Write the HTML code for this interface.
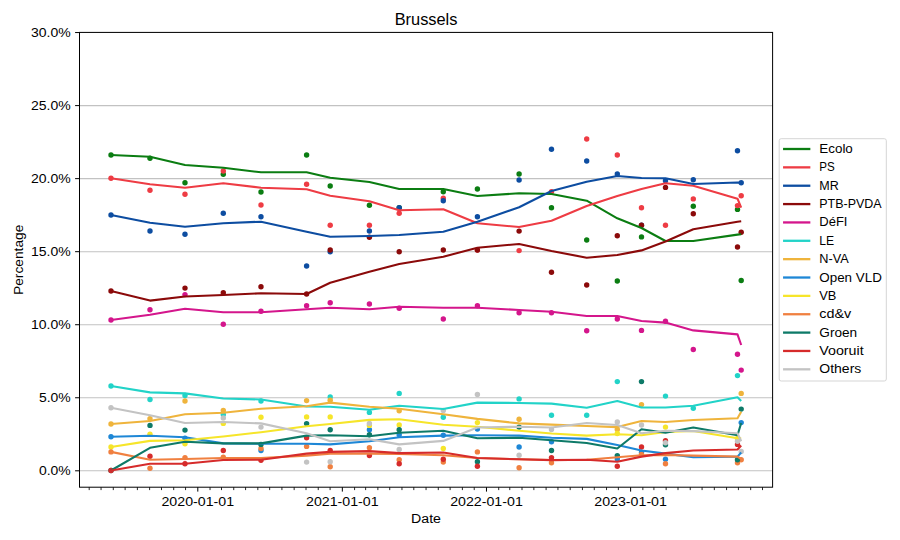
<!DOCTYPE html><html><head><meta charset="utf-8"><style>html,body{margin:0;padding:0;background:#fff;}svg{display:block;}text{font-family:"Liberation Sans",sans-serif;fill:#000;}</style></head><body>
<svg width="900" height="540" viewBox="0 0 900 540">
<rect x="0" y="0" width="900" height="540" fill="#fff"/>
<line x1="79.5" y1="470.80" x2="772.6" y2="470.80" stroke="#c2c2c2" stroke-width="1.1"/>
<line x1="79.5" y1="397.76" x2="772.6" y2="397.76" stroke="#c2c2c2" stroke-width="1.1"/>
<line x1="79.5" y1="324.72" x2="772.6" y2="324.72" stroke="#c2c2c2" stroke-width="1.1"/>
<line x1="79.5" y1="251.68" x2="772.6" y2="251.68" stroke="#c2c2c2" stroke-width="1.1"/>
<line x1="79.5" y1="178.64" x2="772.6" y2="178.64" stroke="#c2c2c2" stroke-width="1.1"/>
<line x1="79.5" y1="105.60" x2="772.6" y2="105.60" stroke="#c2c2c2" stroke-width="1.1"/>
<line x1="79.5" y1="32.56" x2="772.6" y2="32.56" stroke="#c2c2c2" stroke-width="1.1"/>
<clipPath id="c"><rect x="79.5" y="32.4" width="693.1" height="454.8"/></clipPath>
<g clip-path="url(#c)">
<g fill="#0b7d12"><circle cx="111" cy="155" r="2.7"/><circle cx="150" cy="158.3" r="2.7"/><circle cx="185" cy="182.7" r="2.7"/><circle cx="223.3" cy="174.3" r="2.7"/><circle cx="261" cy="192" r="2.7"/><circle cx="306.6" cy="155" r="2.7"/><circle cx="330.2" cy="186" r="2.7"/><circle cx="369.4" cy="205.2" r="2.7"/><circle cx="399.2" cy="207.7" r="2.7"/><circle cx="443.3" cy="191.7" r="2.7"/><circle cx="477.4" cy="189" r="2.7"/><circle cx="519.1" cy="174" r="2.7"/><circle cx="551.5" cy="207.7" r="2.7"/><circle cx="586.7" cy="240" r="2.7"/><circle cx="617.3" cy="281" r="2.7"/><circle cx="641.5" cy="236.9" r="2.7"/><circle cx="693.3" cy="206.3" r="2.7"/><circle cx="737.5" cy="209.4" r="2.7"/><circle cx="741.2" cy="280.5" r="2.7"/></g>
<g fill="#ee3c44"><circle cx="111" cy="178.3" r="2.7"/><circle cx="150" cy="190.3" r="2.7"/><circle cx="185" cy="194.3" r="2.7"/><circle cx="223.3" cy="171" r="2.7"/><circle cx="261" cy="205" r="2.7"/><circle cx="306.6" cy="184.3" r="2.7"/><circle cx="330.2" cy="225.3" r="2.7"/><circle cx="369.4" cy="225.3" r="2.7"/><circle cx="399.2" cy="213.3" r="2.7"/><circle cx="443.3" cy="198.3" r="2.7"/><circle cx="477.4" cy="250" r="2.7"/><circle cx="519.1" cy="250.6" r="2.7"/><circle cx="551.5" cy="191.7" r="2.7"/><circle cx="586.7" cy="139" r="2.7"/><circle cx="617.3" cy="155" r="2.7"/><circle cx="641.5" cy="207.8" r="2.7"/><circle cx="665.5" cy="225.2" r="2.7"/><circle cx="693.3" cy="198.9" r="2.7"/><circle cx="737.5" cy="205.6" r="2.7"/><circle cx="741.2" cy="195.8" r="2.7"/></g>
<g fill="#0d4da1"><circle cx="111" cy="215" r="2.7"/><circle cx="150" cy="231" r="2.7"/><circle cx="185" cy="234.3" r="2.7"/><circle cx="223.3" cy="213.3" r="2.7"/><circle cx="261" cy="216.7" r="2.7"/><circle cx="306.6" cy="266" r="2.7"/><circle cx="330.2" cy="251.7" r="2.7"/><circle cx="369.4" cy="231" r="2.7"/><circle cx="399.2" cy="207.7" r="2.7"/><circle cx="443.3" cy="200.7" r="2.7"/><circle cx="477.4" cy="216.7" r="2.7"/><circle cx="519.1" cy="180" r="2.7"/><circle cx="551.5" cy="149.3" r="2.7"/><circle cx="586.7" cy="161" r="2.7"/><circle cx="617.3" cy="174" r="2.7"/><circle cx="641.5" cy="225.2" r="2.7"/><circle cx="665.5" cy="180.7" r="2.7"/><circle cx="693.3" cy="179.8" r="2.7"/><circle cx="737.5" cy="150.7" r="2.7"/><circle cx="741.2" cy="182.7" r="2.7"/></g>
<g fill="#8b0a0a"><circle cx="111" cy="291" r="2.7"/><circle cx="185" cy="288.1" r="2.7"/><circle cx="223.3" cy="292.7" r="2.7"/><circle cx="261" cy="286.7" r="2.7"/><circle cx="306.6" cy="294" r="2.7"/><circle cx="330.2" cy="250" r="2.7"/><circle cx="369.4" cy="237.3" r="2.7"/><circle cx="399.2" cy="251.7" r="2.7"/><circle cx="443.3" cy="250" r="2.7"/><circle cx="477.4" cy="250.1" r="2.7"/><circle cx="519.1" cy="231.1" r="2.7"/><circle cx="551.5" cy="272.3" r="2.7"/><circle cx="586.7" cy="285" r="2.7"/><circle cx="617.3" cy="235.7" r="2.7"/><circle cx="641.5" cy="225.2" r="2.7"/><circle cx="665.5" cy="187.4" r="2.7"/><circle cx="693.3" cy="213.7" r="2.7"/><circle cx="737.5" cy="247" r="2.7"/><circle cx="741.2" cy="232.2" r="2.7"/></g>
<g fill="#d4168c"><circle cx="111" cy="320" r="2.7"/><circle cx="150" cy="309.8" r="2.7"/><circle cx="185" cy="294.6" r="2.7"/><circle cx="223.3" cy="324.3" r="2.7"/><circle cx="261" cy="311.3" r="2.7"/><circle cx="306.6" cy="305.7" r="2.7"/><circle cx="330.2" cy="302.7" r="2.7"/><circle cx="369.4" cy="304" r="2.7"/><circle cx="399.2" cy="308.3" r="2.7"/><circle cx="443.3" cy="319" r="2.7"/><circle cx="477.4" cy="305.7" r="2.7"/><circle cx="519.1" cy="312.7" r="2.7"/><circle cx="551.5" cy="312.7" r="2.7"/><circle cx="586.7" cy="330.7" r="2.7"/><circle cx="617.3" cy="319" r="2.7"/><circle cx="641.5" cy="330.4" r="2.7"/><circle cx="665.5" cy="321.2" r="2.7"/><circle cx="693.3" cy="349.5" r="2.7"/><circle cx="737.5" cy="354.2" r="2.7"/><circle cx="741.2" cy="370.1" r="2.7"/></g>
<g fill="#22d3c8"><circle cx="111" cy="386" r="2.7"/><circle cx="150" cy="399.5" r="2.7"/><circle cx="185" cy="395.5" r="2.7"/><circle cx="223.3" cy="414.5" r="2.7"/><circle cx="261" cy="401" r="2.7"/><circle cx="330.2" cy="396.9" r="2.7"/><circle cx="369.4" cy="412.4" r="2.7"/><circle cx="399.2" cy="393.4" r="2.7"/><circle cx="443.3" cy="417.3" r="2.7"/><circle cx="519.1" cy="398.9" r="2.7"/><circle cx="551.5" cy="415.2" r="2.7"/><circle cx="586.7" cy="415.2" r="2.7"/><circle cx="617.3" cy="381.6" r="2.7"/><circle cx="665.5" cy="396.1" r="2.7"/><circle cx="693.3" cy="408.3" r="2.7"/><circle cx="737.5" cy="375.6" r="2.7"/></g>
<g fill="#efb43c"><circle cx="111" cy="424" r="2.7"/><circle cx="150" cy="418.8" r="2.7"/><circle cx="185" cy="401" r="2.7"/><circle cx="223.3" cy="410.4" r="2.7"/><circle cx="306.6" cy="400.6" r="2.7"/><circle cx="330.2" cy="400.2" r="2.7"/><circle cx="399.2" cy="410.8" r="2.7"/><circle cx="519.1" cy="419.3" r="2.7"/><circle cx="617.3" cy="429.5" r="2.7"/><circle cx="641.5" cy="404.6" r="2.7"/><circle cx="741.2" cy="393.4" r="2.7"/></g>
<g fill="#1e87d6"><circle cx="111" cy="436.8" r="2.7"/><circle cx="185" cy="438.3" r="2.7"/><circle cx="261" cy="450.5" r="2.7"/><circle cx="369.4" cy="429.7" r="2.7"/><circle cx="399.2" cy="434.8" r="2.7"/><circle cx="443.3" cy="435.2" r="2.7"/><circle cx="477.4" cy="429.1" r="2.7"/><circle cx="519.1" cy="447" r="2.7"/><circle cx="551.5" cy="441.7" r="2.7"/><circle cx="617.3" cy="459" r="2.7"/><circle cx="641.5" cy="452.5" r="2.7"/><circle cx="665.5" cy="459.3" r="2.7"/><circle cx="741.2" cy="422.6" r="2.7"/></g>
<g fill="#f6e52a"><circle cx="111" cy="447" r="2.7"/><circle cx="150" cy="434.2" r="2.7"/><circle cx="185" cy="443.8" r="2.7"/><circle cx="223.3" cy="423.4" r="2.7"/><circle cx="261" cy="417.3" r="2.7"/><circle cx="306.6" cy="416.9" r="2.7"/><circle cx="330.2" cy="416.9" r="2.7"/><circle cx="369.4" cy="425.4" r="2.7"/><circle cx="399.2" cy="425" r="2.7"/><circle cx="443.3" cy="448.5" r="2.7"/><circle cx="477.4" cy="422.6" r="2.7"/><circle cx="617.3" cy="433.5" r="2.7"/><circle cx="665.5" cy="427.1" r="2.7"/><circle cx="737.5" cy="438.5" r="2.7"/></g>
<g fill="#f08040"><circle cx="111" cy="451.9" r="2.7"/><circle cx="150" cy="468.2" r="2.7"/><circle cx="185" cy="457.6" r="2.7"/><circle cx="223.3" cy="457.2" r="2.7"/><circle cx="261" cy="448.5" r="2.7"/><circle cx="306.6" cy="446.4" r="2.7"/><circle cx="330.2" cy="466.8" r="2.7"/><circle cx="369.4" cy="447.8" r="2.7"/><circle cx="399.2" cy="459.7" r="2.7"/><circle cx="443.3" cy="462.1" r="2.7"/><circle cx="477.4" cy="451.9" r="2.7"/><circle cx="519.1" cy="467.8" r="2.7"/><circle cx="551.5" cy="462.7" r="2.7"/><circle cx="641.5" cy="454.5" r="2.7"/><circle cx="665.5" cy="463.7" r="2.7"/><circle cx="737.5" cy="462.7" r="2.7"/><circle cx="741.2" cy="459.7" r="2.7"/></g>
<g fill="#0e7a68"><circle cx="111" cy="470.5" r="2.7"/><circle cx="150" cy="425.4" r="2.7"/><circle cx="185" cy="430.1" r="2.7"/><circle cx="261" cy="444.4" r="2.7"/><circle cx="306.6" cy="423.6" r="2.7"/><circle cx="330.2" cy="429.7" r="2.7"/><circle cx="369.4" cy="434.8" r="2.7"/><circle cx="399.2" cy="429.7" r="2.7"/><circle cx="477.4" cy="461.7" r="2.7"/><circle cx="519.1" cy="427.1" r="2.7"/><circle cx="551.5" cy="450.5" r="2.7"/><circle cx="617.3" cy="455.6" r="2.7"/><circle cx="641.5" cy="381.6" r="2.7"/><circle cx="665.5" cy="444.8" r="2.7"/><circle cx="737.5" cy="459.7" r="2.7"/><circle cx="741.2" cy="409.1" r="2.7"/></g>
<g fill="#d62b2b"><circle cx="111" cy="470.5" r="2.7"/><circle cx="150" cy="456.2" r="2.7"/><circle cx="185" cy="463.7" r="2.7"/><circle cx="223.3" cy="450.5" r="2.7"/><circle cx="261" cy="460.3" r="2.7"/><circle cx="306.6" cy="437.7" r="2.7"/><circle cx="330.2" cy="450.5" r="2.7"/><circle cx="369.4" cy="455.6" r="2.7"/><circle cx="399.2" cy="463.7" r="2.7"/><circle cx="443.3" cy="459.3" r="2.7"/><circle cx="477.4" cy="466.2" r="2.7"/><circle cx="551.5" cy="457.6" r="2.7"/><circle cx="617.3" cy="466.2" r="2.7"/><circle cx="641.5" cy="447" r="2.7"/><circle cx="665.5" cy="440.8" r="2.7"/><circle cx="737.5" cy="444.4" r="2.7"/></g>
<g fill="#c3c3c3"><circle cx="111" cy="407.7" r="2.7"/><circle cx="223.3" cy="417.9" r="2.7"/><circle cx="261" cy="427.1" r="2.7"/><circle cx="306.6" cy="462.1" r="2.7"/><circle cx="330.2" cy="461.7" r="2.7"/><circle cx="369.4" cy="423.4" r="2.7"/><circle cx="399.2" cy="449.5" r="2.7"/><circle cx="443.3" cy="410.4" r="2.7"/><circle cx="477.4" cy="394.5" r="2.7"/><circle cx="519.1" cy="455.2" r="2.7"/><circle cx="551.5" cy="429.5" r="2.7"/><circle cx="617.3" cy="422" r="2.7"/><circle cx="641.5" cy="425" r="2.7"/><circle cx="665.5" cy="442.8" r="2.7"/><circle cx="737.5" cy="441.3" r="2.7"/><circle cx="741.2" cy="451.5" r="2.7"/></g>
<polyline points="111,155 150,156.7 185,165 223.3,167.7 261,172.3 306.6,172.3 330.2,177.7 369.4,182 399.2,189 443.3,189 477.4,196 519.1,193.3 551.5,194 586.7,200.7 617.3,218.3 641.5,228 665.5,241 693.3,241 737.5,234.6 741.2,234.3" fill="none" stroke="#0b7d12" stroke-width="2.1" stroke-linejoin="round" stroke-linecap="butt"/>
<polyline points="111,178.3 150,184.3 185,187.7 223.3,183.3 261,187.7 306.6,189.3 330.2,195.7 369.4,201.2 399.2,210.3 443.3,209.3 477.4,223.3 519.1,227 551.5,220.7 586.7,206 617.3,196 641.5,189 665.5,183.3 693.3,185.7 737.5,198.7 741.2,207.6" fill="none" stroke="#ee3c44" stroke-width="2.1" stroke-linejoin="round" stroke-linecap="butt"/>
<polyline points="111,215 150,222.7 185,226.7 223.3,223.3 261,221.7 306.6,231.7 330.2,236.7 369.4,236 399.2,235 443.3,231.7 477.4,221.7 519.1,207.3 551.5,191 586.7,181.7 617.3,176 641.5,178 665.5,178.3 693.3,184 737.5,182.5 741.2,182.7" fill="none" stroke="#0d4da1" stroke-width="2.1" stroke-linejoin="round" stroke-linecap="butt"/>
<polyline points="111,291 150,300.6 185,296.5 223.3,295 261,293.3 306.6,294 330.2,282.7 369.4,271.7 399.2,264 443.3,256.7 477.4,247.7 519.1,244 551.5,251 586.7,257.7 617.3,255 641.5,250.4 665.5,241.5 693.3,229.3 737.5,221.8 741.2,221.3" fill="none" stroke="#8b0a0a" stroke-width="2.1" stroke-linejoin="round" stroke-linecap="butt"/>
<polyline points="111,320 150,314.7 185,308.7 223.3,312.3 261,312.3 306.6,309.3 330.2,307.7 369.4,309.3 399.2,306.7 443.3,307.7 477.4,307.7 519.1,310 551.5,311.7 586.7,316 617.3,316 641.5,321 665.5,322.6 693.3,330.4 737.5,334.4 741.2,345" fill="none" stroke="#d4168c" stroke-width="2.1" stroke-linejoin="round" stroke-linecap="butt"/>
<polyline points="111,386 150,392.4 185,393.4 223.3,398.5 261,399.5 306.6,406.5 330.2,406.7 369.4,409.7 399.2,405.7 443.3,409 477.4,402.6 519.1,403 551.5,403.6 586.7,407.7 617.3,401 641.5,407.5 665.5,407.5 693.3,405.7 737.5,397.3 741.2,401" fill="none" stroke="#22d3c8" stroke-width="2.1" stroke-linejoin="round" stroke-linecap="butt"/>
<polyline points="111,424 150,421 185,414.2 223.3,412.8 261,408.7 306.6,406.3 330.2,402.6 369.4,406.7 399.2,408.7 443.3,414.2 477.4,418.9 519.1,423.4 551.5,424.6 586.7,426 617.3,427.1 641.5,421 665.5,422 693.3,420 737.5,418.3 741.2,411.8" fill="none" stroke="#efb43c" stroke-width="2.1" stroke-linejoin="round" stroke-linecap="butt"/>
<polyline points="111,436.8 150,435.8 185,437.2 223.3,443.4 261,443.8 306.6,443.8 330.2,444.4 369.4,441.3 399.2,437.2 443.3,435.6 477.4,435.2 519.1,435.6 551.5,437.7 586.7,438.9 617.3,445 641.5,450.5 665.5,453.6 693.3,457.2 737.5,456.6 741.2,452.5" fill="none" stroke="#1e87d6" stroke-width="2.1" stroke-linejoin="round" stroke-linecap="butt"/>
<polyline points="111,447 150,440.9 185,440.3 223.3,436.5 261,432.2 306.6,426.3 330.2,424 369.4,419.9 399.2,419.3 443.3,424.8 477.4,426.7 519.1,430.7 551.5,433.5 586.7,435.6 617.3,434.2 641.5,435.2 665.5,432 693.3,431 737.5,438.3 741.2,438.3" fill="none" stroke="#f6e52a" stroke-width="2.1" stroke-linejoin="round" stroke-linecap="butt"/>
<polyline points="111,451.9 150,459.7 185,459 223.3,458 261,458 306.6,455.6 330.2,453.6 369.4,453.6 399.2,454 443.3,455.2 477.4,458 519.1,459.3 551.5,460 586.7,459.7 617.3,457.2 641.5,455.2 665.5,455 693.3,455.6 737.5,456.6 741.2,459" fill="none" stroke="#f08040" stroke-width="2.1" stroke-linejoin="round" stroke-linecap="butt"/>
<polyline points="111,470.5 150,447.8 185,441.7 223.3,443.4 261,443.4 306.6,435.6 330.2,435.2 369.4,436.2 399.2,432.8 443.3,430.7 477.4,438.3 519.1,437.7 551.5,440.3 586.7,443 617.3,448.5 641.5,429.3 665.5,432.8 693.3,427.5 737.5,435.2 741.2,423" fill="none" stroke="#0e7a68" stroke-width="2.1" stroke-linejoin="round" stroke-linecap="butt"/>
<polyline points="111,470.5 150,463.7 185,463.7 223.3,460 261,459.7 306.6,453.6 330.2,451.9 369.4,451.1 399.2,453.1 443.3,452.5 477.4,458 519.1,459.3 551.5,460.1 586.7,459.7 617.3,461.7 641.5,456.6 665.5,453.1 693.3,450.5 737.5,449.5 741.2,445.5" fill="none" stroke="#d62b2b" stroke-width="2.1" stroke-linejoin="round" stroke-linecap="butt"/>
<polyline points="111,407.7 150,415.2 185,423 223.3,422 261,423.4 306.6,433.2 330.2,441.3 369.4,439.3 399.2,444.4 443.3,440.9 477.4,427.5 519.1,426.7 551.5,427.5 586.7,423 617.3,425 641.5,433.2 665.5,430.7 693.3,431.1 737.5,433.2 741.2,441.3" fill="none" stroke="#c3c3c3" stroke-width="2.1" stroke-linejoin="round" stroke-linecap="butt"/>
</g>
<rect x="79.5" y="32.4" width="693.10" height="454.80" fill="none" stroke="#000" stroke-width="1"/>
<line x1="75.1" y1="470.80" x2="79.5" y2="470.80" stroke="#000" stroke-width="1"/>
<text x="70.70" y="475.30" font-size="13.25" text-anchor="end" textLength="31.76" lengthAdjust="spacingAndGlyphs">0.0%</text>
<line x1="75.1" y1="397.76" x2="79.5" y2="397.76" stroke="#000" stroke-width="1"/>
<text x="70.70" y="402.26" font-size="13.25" text-anchor="end" textLength="31.76" lengthAdjust="spacingAndGlyphs">5.0%</text>
<line x1="75.1" y1="324.72" x2="79.5" y2="324.72" stroke="#000" stroke-width="1"/>
<text x="70.70" y="329.22" font-size="13.25" text-anchor="end" textLength="39.71" lengthAdjust="spacingAndGlyphs">10.0%</text>
<line x1="75.1" y1="251.68" x2="79.5" y2="251.68" stroke="#000" stroke-width="1"/>
<text x="70.70" y="256.18" font-size="13.25" text-anchor="end" textLength="39.71" lengthAdjust="spacingAndGlyphs">15.0%</text>
<line x1="75.1" y1="178.64" x2="79.5" y2="178.64" stroke="#000" stroke-width="1"/>
<text x="70.70" y="183.14" font-size="13.25" text-anchor="end" textLength="39.71" lengthAdjust="spacingAndGlyphs">20.0%</text>
<line x1="75.1" y1="105.60" x2="79.5" y2="105.60" stroke="#000" stroke-width="1"/>
<text x="70.70" y="110.10" font-size="13.25" text-anchor="end" textLength="39.71" lengthAdjust="spacingAndGlyphs">25.0%</text>
<line x1="75.1" y1="32.56" x2="79.5" y2="32.56" stroke="#000" stroke-width="1"/>
<text x="70.70" y="37.06" font-size="13.25" text-anchor="end" textLength="39.71" lengthAdjust="spacingAndGlyphs">30.0%</text>
<line x1="89.20" y1="487.2" x2="89.20" y2="490.09999999999997" stroke="#000" stroke-width="0.85"/>
<line x1="101.05" y1="487.2" x2="101.05" y2="490.09999999999997" stroke="#000" stroke-width="0.85"/>
<line x1="113.29" y1="487.2" x2="113.29" y2="490.09999999999997" stroke="#000" stroke-width="0.85"/>
<line x1="125.14" y1="487.2" x2="125.14" y2="490.09999999999997" stroke="#000" stroke-width="0.85"/>
<line x1="137.38" y1="487.2" x2="137.38" y2="490.09999999999997" stroke="#000" stroke-width="0.85"/>
<line x1="149.62" y1="487.2" x2="149.62" y2="490.09999999999997" stroke="#000" stroke-width="0.85"/>
<line x1="161.47" y1="487.2" x2="161.47" y2="490.09999999999997" stroke="#000" stroke-width="0.85"/>
<line x1="173.71" y1="487.2" x2="173.71" y2="490.09999999999997" stroke="#000" stroke-width="0.85"/>
<line x1="185.56" y1="487.2" x2="185.56" y2="490.09999999999997" stroke="#000" stroke-width="0.85"/>
<line x1="197.80" y1="487.2" x2="197.80" y2="491.59999999999997" stroke="#000" stroke-width="1"/>
<line x1="210.04" y1="487.2" x2="210.04" y2="490.09999999999997" stroke="#000" stroke-width="0.85"/>
<line x1="221.49" y1="487.2" x2="221.49" y2="490.09999999999997" stroke="#000" stroke-width="0.85"/>
<line x1="233.74" y1="487.2" x2="233.74" y2="490.09999999999997" stroke="#000" stroke-width="0.85"/>
<line x1="245.58" y1="487.2" x2="245.58" y2="490.09999999999997" stroke="#000" stroke-width="0.85"/>
<line x1="257.82" y1="487.2" x2="257.82" y2="490.09999999999997" stroke="#000" stroke-width="0.85"/>
<line x1="269.67" y1="487.2" x2="269.67" y2="490.09999999999997" stroke="#000" stroke-width="0.85"/>
<line x1="281.91" y1="487.2" x2="281.91" y2="490.09999999999997" stroke="#000" stroke-width="0.85"/>
<line x1="294.16" y1="487.2" x2="294.16" y2="490.09999999999997" stroke="#000" stroke-width="0.85"/>
<line x1="306.00" y1="487.2" x2="306.00" y2="490.09999999999997" stroke="#000" stroke-width="0.85"/>
<line x1="318.24" y1="487.2" x2="318.24" y2="490.09999999999997" stroke="#000" stroke-width="0.85"/>
<line x1="330.09" y1="487.2" x2="330.09" y2="490.09999999999997" stroke="#000" stroke-width="0.85"/>
<line x1="342.33" y1="487.2" x2="342.33" y2="491.59999999999997" stroke="#000" stroke-width="1"/>
<line x1="354.58" y1="487.2" x2="354.58" y2="490.09999999999997" stroke="#000" stroke-width="0.85"/>
<line x1="365.63" y1="487.2" x2="365.63" y2="490.09999999999997" stroke="#000" stroke-width="0.85"/>
<line x1="377.87" y1="487.2" x2="377.87" y2="490.09999999999997" stroke="#000" stroke-width="0.85"/>
<line x1="389.72" y1="487.2" x2="389.72" y2="490.09999999999997" stroke="#000" stroke-width="0.85"/>
<line x1="401.96" y1="487.2" x2="401.96" y2="490.09999999999997" stroke="#000" stroke-width="0.85"/>
<line x1="413.81" y1="487.2" x2="413.81" y2="490.09999999999997" stroke="#000" stroke-width="0.85"/>
<line x1="426.05" y1="487.2" x2="426.05" y2="490.09999999999997" stroke="#000" stroke-width="0.85"/>
<line x1="438.29" y1="487.2" x2="438.29" y2="490.09999999999997" stroke="#000" stroke-width="0.85"/>
<line x1="450.14" y1="487.2" x2="450.14" y2="490.09999999999997" stroke="#000" stroke-width="0.85"/>
<line x1="462.38" y1="487.2" x2="462.38" y2="490.09999999999997" stroke="#000" stroke-width="0.85"/>
<line x1="474.23" y1="487.2" x2="474.23" y2="490.09999999999997" stroke="#000" stroke-width="0.85"/>
<line x1="486.47" y1="487.2" x2="486.47" y2="491.59999999999997" stroke="#000" stroke-width="1"/>
<line x1="498.71" y1="487.2" x2="498.71" y2="490.09999999999997" stroke="#000" stroke-width="0.85"/>
<line x1="509.77" y1="487.2" x2="509.77" y2="490.09999999999997" stroke="#000" stroke-width="0.85"/>
<line x1="522.01" y1="487.2" x2="522.01" y2="490.09999999999997" stroke="#000" stroke-width="0.85"/>
<line x1="533.86" y1="487.2" x2="533.86" y2="490.09999999999997" stroke="#000" stroke-width="0.85"/>
<line x1="546.10" y1="487.2" x2="546.10" y2="490.09999999999997" stroke="#000" stroke-width="0.85"/>
<line x1="557.95" y1="487.2" x2="557.95" y2="490.09999999999997" stroke="#000" stroke-width="0.85"/>
<line x1="570.19" y1="487.2" x2="570.19" y2="490.09999999999997" stroke="#000" stroke-width="0.85"/>
<line x1="582.43" y1="487.2" x2="582.43" y2="490.09999999999997" stroke="#000" stroke-width="0.85"/>
<line x1="594.28" y1="487.2" x2="594.28" y2="490.09999999999997" stroke="#000" stroke-width="0.85"/>
<line x1="606.52" y1="487.2" x2="606.52" y2="490.09999999999997" stroke="#000" stroke-width="0.85"/>
<line x1="618.37" y1="487.2" x2="618.37" y2="490.09999999999997" stroke="#000" stroke-width="0.85"/>
<line x1="630.61" y1="487.2" x2="630.61" y2="491.59999999999997" stroke="#000" stroke-width="1"/>
<line x1="642.85" y1="487.2" x2="642.85" y2="490.09999999999997" stroke="#000" stroke-width="0.85"/>
<line x1="653.91" y1="487.2" x2="653.91" y2="490.09999999999997" stroke="#000" stroke-width="0.85"/>
<line x1="666.15" y1="487.2" x2="666.15" y2="490.09999999999997" stroke="#000" stroke-width="0.85"/>
<line x1="678.00" y1="487.2" x2="678.00" y2="490.09999999999997" stroke="#000" stroke-width="0.85"/>
<line x1="690.24" y1="487.2" x2="690.24" y2="490.09999999999997" stroke="#000" stroke-width="0.85"/>
<line x1="702.09" y1="487.2" x2="702.09" y2="490.09999999999997" stroke="#000" stroke-width="0.85"/>
<line x1="714.33" y1="487.2" x2="714.33" y2="490.09999999999997" stroke="#000" stroke-width="0.85"/>
<line x1="726.57" y1="487.2" x2="726.57" y2="490.09999999999997" stroke="#000" stroke-width="0.85"/>
<line x1="738.42" y1="487.2" x2="738.42" y2="490.09999999999997" stroke="#000" stroke-width="0.85"/>
<line x1="750.66" y1="487.2" x2="750.66" y2="490.09999999999997" stroke="#000" stroke-width="0.85"/>
<line x1="762.51" y1="487.2" x2="762.51" y2="490.09999999999997" stroke="#000" stroke-width="0.85"/>
<text x="197.80" y="506.00" font-size="13.25" text-anchor="middle" textLength="72.64" lengthAdjust="spacingAndGlyphs">2020-01-01</text>
<text x="342.33" y="506.00" font-size="13.25" text-anchor="middle" textLength="72.64" lengthAdjust="spacingAndGlyphs">2021-01-01</text>
<text x="486.47" y="506.00" font-size="13.25" text-anchor="middle" textLength="72.64" lengthAdjust="spacingAndGlyphs">2022-01-01</text>
<text x="630.61" y="506.00" font-size="13.25" text-anchor="middle" textLength="72.64" lengthAdjust="spacingAndGlyphs">2023-01-01</text>
<text x="426.05" y="25.00" font-size="15.90" text-anchor="middle" textLength="62.81" lengthAdjust="spacingAndGlyphs">Brussels</text>
<text x="426.05" y="523.00" font-size="13.25" text-anchor="middle" textLength="29.88" lengthAdjust="spacingAndGlyphs">Date</text>
<text x="23.10" y="259.80" font-size="13.25" text-anchor="middle" textLength="70.32" lengthAdjust="spacingAndGlyphs" transform="rotate(-90 23.10 259.80)">Percentage</text>
<rect x="779.2" y="138.7" width="107.10" height="242.30" rx="2" fill="#fff" fill-opacity="0.8" stroke="#d5d5d5" stroke-width="1"/>
<line x1="784.2" y1="149.00" x2="809.2" y2="149.00" stroke="#0b7d12" stroke-width="2.3" stroke-linecap="square"/>
<text x="819.30" y="153.00" font-size="13.25" text-anchor="start" textLength="33.54" lengthAdjust="spacingAndGlyphs">Ecolo</text>
<line x1="784.2" y1="167.36" x2="809.2" y2="167.36" stroke="#ee3c44" stroke-width="2.3" stroke-linecap="square"/>
<text x="819.30" y="171.36" font-size="13.25" text-anchor="start" textLength="15.47" lengthAdjust="spacingAndGlyphs">PS</text>
<line x1="784.2" y1="185.72" x2="809.2" y2="185.72" stroke="#0d4da1" stroke-width="2.3" stroke-linecap="square"/>
<text x="819.30" y="189.72" font-size="13.25" text-anchor="start" textLength="19.47" lengthAdjust="spacingAndGlyphs">MR</text>
<line x1="784.2" y1="204.08" x2="809.2" y2="204.08" stroke="#8b0a0a" stroke-width="2.3" stroke-linecap="square"/>
<text x="819.30" y="208.08" font-size="13.25" text-anchor="start" textLength="62.30" lengthAdjust="spacingAndGlyphs">PTB-PVDA</text>
<line x1="784.2" y1="222.44" x2="809.2" y2="222.44" stroke="#d4168c" stroke-width="2.3" stroke-linecap="square"/>
<text x="819.30" y="226.44" font-size="13.25" text-anchor="start" textLength="28.19" lengthAdjust="spacingAndGlyphs">DéFI</text>
<line x1="784.2" y1="240.80" x2="809.2" y2="240.80" stroke="#22d3c8" stroke-width="2.3" stroke-linecap="square"/>
<text x="819.30" y="244.80" font-size="13.25" text-anchor="start" textLength="14.86" lengthAdjust="spacingAndGlyphs">LE</text>
<line x1="784.2" y1="259.16" x2="809.2" y2="259.16" stroke="#efb43c" stroke-width="2.3" stroke-linecap="square"/>
<text x="819.30" y="263.16" font-size="13.25" text-anchor="start" textLength="29.43" lengthAdjust="spacingAndGlyphs">N-VA</text>
<line x1="784.2" y1="277.52" x2="809.2" y2="277.52" stroke="#1e87d6" stroke-width="2.3" stroke-linecap="square"/>
<text x="819.30" y="281.52" font-size="13.25" text-anchor="start" textLength="62.50" lengthAdjust="spacingAndGlyphs">Open VLD</text>
<line x1="784.2" y1="295.88" x2="809.2" y2="295.88" stroke="#f6e52a" stroke-width="2.3" stroke-linecap="square"/>
<text x="819.30" y="299.88" font-size="13.25" text-anchor="start" textLength="17.13" lengthAdjust="spacingAndGlyphs">VB</text>
<line x1="784.2" y1="314.24" x2="809.2" y2="314.24" stroke="#f08040" stroke-width="2.3" stroke-linecap="square"/>
<text x="819.30" y="318.24" font-size="13.25" text-anchor="start" textLength="31.95" lengthAdjust="spacingAndGlyphs">cd&amp;v</text>
<line x1="784.2" y1="332.60" x2="809.2" y2="332.60" stroke="#0e7a68" stroke-width="2.3" stroke-linecap="square"/>
<text x="819.30" y="336.60" font-size="13.25" text-anchor="start" textLength="37.81" lengthAdjust="spacingAndGlyphs">Groen</text>
<line x1="784.2" y1="350.96" x2="809.2" y2="350.96" stroke="#d62b2b" stroke-width="2.3" stroke-linecap="square"/>
<text x="819.30" y="354.96" font-size="13.25" text-anchor="start" textLength="44.31" lengthAdjust="spacingAndGlyphs">Vooruit</text>
<line x1="784.2" y1="369.32" x2="809.2" y2="369.32" stroke="#c3c3c3" stroke-width="2.3" stroke-linecap="square"/>
<text x="819.30" y="373.32" font-size="13.25" text-anchor="start" textLength="42.00" lengthAdjust="spacingAndGlyphs">Others</text>
</svg></body></html>
